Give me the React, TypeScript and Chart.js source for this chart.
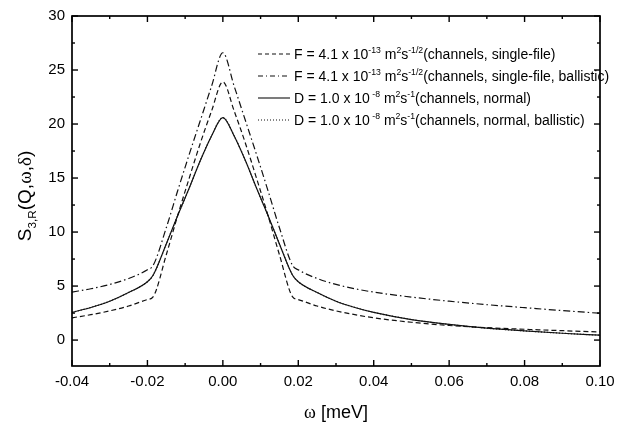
import React, { useEffect, useRef } from "react";
import { Chart, registerables } from "chart.js";
Chart.register(...registerables);

// omega [meV]
const omega = [-0.04, -0.035, -0.03, -0.025, -0.02, -0.0185, -0.015, -0.012, -0.009, -0.006, -0.003, 0,
  0.003, 0.006, 0.009, 0.012, 0.015, 0.0185, 0.02, 0.025, 0.03, 0.035, 0.04, 0.05, 0.06, 0.07, 0.08, 0.09, 0.10];

// F = 4.1e-13 (channels, single-file) - dashed
const singleFile = [2.06, 2.35, 2.7, 3.15, 3.75, 4.0, 7.9, 11.5, 14.9, 18.2, 21.2, 23.9,
  21.2, 18.2, 14.9, 11.5, 7.9, 4.0, 3.75, 3.15, 2.7, 2.35, 2.06, 1.65, 1.35, 1.15, 1.0, 0.87, 0.75];

// F = 4.1e-13 (channels, single-file, ballistic) - dash-dot
const singleFileBallistic = [4.44, 4.75, 5.15, 5.7, 6.5, 6.9, 10.4, 13.8, 17.1, 20.3, 23.5, 26.6,
  23.5, 20.3, 17.1, 13.8, 10.4, 6.9, 6.5, 5.7, 5.15, 4.75, 4.44, 3.98, 3.6, 3.28, 3.0, 2.73, 2.48];

// D = 1.0e-8 (channels, normal) - solid
const normal = [2.57, 3.02, 3.6, 4.4, 5.4, 6.0, 8.9, 11.5, 14.0, 16.6, 18.9, 20.6,
  18.9, 16.6, 14.0, 11.5, 8.9, 6.0, 5.4, 4.4, 3.6, 3.02, 2.57, 1.9, 1.45, 1.1, 0.85, 0.63, 0.45];

// D = 1.0e-8 (channels, normal, ballistic) - dotted (coincides with solid)
const normalBallistic = [2.57, 3.02, 3.6, 4.4, 5.4, 6.0, 8.9, 11.5, 14.0, 16.6, 18.9, 20.6,
  18.9, 16.6, 14.0, 11.5, 8.9, 6.0, 5.4, 4.4, 3.6, 3.02, 2.57, 1.9, 1.45, 1.1, 0.85, 0.63, 0.45];

const xTicks = [-0.04, -0.02, 0.0, 0.02, 0.04, 0.06, 0.08, 0.1];
const xMinor = [-0.03, -0.01, 0.01, 0.03, 0.05, 0.07, 0.09];
const yTicks = [0, 5, 10, 15, 20, 25, 30];
const yMinor = [2.5, 7.5, 12.5, 17.5, 22.5, 27.5];

type Seg = { t: string; sup?: boolean; sub?: boolean; serif?: boolean };

const legendRows: { dash: number[]; segs: Seg[] }[] = [
  { dash: [4, 3], segs: [{ t: "F = 4.1 x 10" }, { t: "-13", sup: true }, { t: " m" }, { t: "2", sup: true }, { t: "s" }, { t: "-1/2", sup: true }, { t: "(channels, single-file)" }] },
  { dash: [5, 3, 1, 3], segs: [{ t: "F = 4.1 x 10" }, { t: "-13", sup: true }, { t: " m" }, { t: "2", sup: true }, { t: "s" }, { t: "-1/2", sup: true }, { t: "(channels, single-file, ballistic)" }] },
  { dash: [], segs: [{ t: "D = 1.0 x 10" }, { t: " -8", sup: true }, { t: " m" }, { t: "2", sup: true }, { t: "s" }, { t: "-1", sup: true }, { t: "(channels, normal)" }] },
  { dash: [1, 2], segs: [{ t: "D = 1.0 x 10" }, { t: " -8", sup: true }, { t: " m" }, { t: "2", sup: true }, { t: "s" }, { t: "-1", sup: true }, { t: "(channels, normal, ballistic)" }] },
];

const SANS = "'Liberation Sans', Arial, sans-serif";
const SERIF = "'Liberation Serif', serif";

function richWidth(ctx: CanvasRenderingContext2D, segs: Seg[], size: number) {
  let w = 0;
  for (const s of segs) {
    const sz = s.sup || s.sub ? size * 0.62 : size;
    ctx.font = `${sz}px ${s.serif ? SERIF : SANS}`;
    w += ctx.measureText(s.t).width;
  }
  return w;
}

function drawRich(ctx: CanvasRenderingContext2D, segs: Seg[], x: number, y: number, size: number) {
  ctx.textBaseline = "alphabetic";
  ctx.textAlign = "left";
  let cx = x;
  for (const s of segs) {
    const sz = s.sup || s.sub ? size * 0.62 : size;
    ctx.font = `${sz}px ${s.serif ? SERIF : SANS}`;
    const yy = s.sup ? y - size * 0.42 : s.sub ? y + size * 0.25 : y;
    ctx.fillText(s.t, cx, yy);
    cx += ctx.measureText(s.t).width;
  }
}

const decorPlugin = {
  id: "decor",
  afterDraw(chart: any) {
    const ctx: CanvasRenderingContext2D = chart.ctx;
    const { left, right, top, bottom } = chart.chartArea;
    const xs = chart.scales.x;
    const ys = chart.scales.y;
    ctx.save();
    ctx.strokeStyle = "#000";
    ctx.fillStyle = "#000";
    ctx.setLineDash([]);
    ctx.lineWidth = 1.7;
    ctx.strokeRect(left, top, right - left, bottom - top);
    ctx.lineWidth = 1.4;
    const tick = (x1: number, y1: number, x2: number, y2: number) => {
      ctx.beginPath();
      ctx.moveTo(x1, y1);
      ctx.lineTo(x2, y2);
      ctx.stroke();
    };
    for (const v of xTicks) {
      const p = xs.getPixelForValue(v);
      tick(p, bottom, p, bottom - 6);
      tick(p, top, p, top + 6);
    }
    for (const v of xMinor) {
      const p = xs.getPixelForValue(v);
      tick(p, bottom, p, bottom - 3);
      tick(p, top, p, top + 3);
    }
    for (const v of yTicks) {
      const p = ys.getPixelForValue(v);
      tick(left, p, left + 6, p);
      tick(right, p, right - 6, p);
    }
    for (const v of yMinor) {
      const p = ys.getPixelForValue(v);
      tick(left, p, left + 3, p);
      tick(right, p, right - 3, p);
    }

    // legend
    const lsize = 14;
    const rowY = [54, 76, 98, 120];
    legendRows.forEach((r, i) => {
      const y = rowY[i];
      ctx.lineWidth = 1.1;
      ctx.setLineDash(r.dash);
      ctx.strokeStyle = "#111";
      ctx.beginPath();
      ctx.moveTo(258, y);
      ctx.lineTo(290, y);
      ctx.stroke();
      ctx.setLineDash([]);
      drawRich(ctx, r.segs, 294, y + 5, lsize);
    });

    // x title
    const xt: Seg[] = [{ t: "ω", serif: true }, { t: " [meV]" }];
    const xw = richWidth(ctx, xt, 18);
    drawRich(ctx, xt, (left + right) / 2 - xw / 2, 418, 18);

    // y title
    const yt: Seg[] = [{ t: "S" }, { t: "3,R", sub: true }, { t: "(Q," }, { t: "ω", serif: true }, { t: "," }, { t: "δ", serif: true }, { t: ")" }];
    ctx.translate(31, 196);
    ctx.rotate(-Math.PI / 2);
    const yw = richWidth(ctx, yt, 19);
    drawRich(ctx, yt, -yw / 2, 0, 19);
    ctx.restore();
  },
};

export default function App() {
  const ref = useRef<HTMLCanvasElement | null>(null);
  useEffect(() => {
    if (!ref.current) return;
    const mk = (vals: number[]) => omega.map((x, i) => ({ x, y: vals[i] }));
    const base = { borderColor: "#111", borderWidth: 1.2, pointRadius: 0, cubicInterpolationMode: "monotone", fill: false };
    const chart = new Chart(ref.current, {
      type: "line",
      data: {
        datasets: [
          { ...base, label: "D normal ballistic", data: mk(normalBallistic), borderDash: [1, 2] },
          { ...base, label: "F single-file", data: mk(singleFile), borderDash: [5, 3] },
          { ...base, label: "F single-file ballistic", data: mk(singleFileBallistic), borderDash: [7, 3, 1.5, 3] },
          { ...base, label: "D normal", data: mk(normal), borderDash: [] },
        ],
      },
      options: {
        animation: false,
        responsive: false,
        maintainAspectRatio: false,
        layout: { padding: { top: 9, right: 39, left: 0, bottom: 0 } },
        plugins: { legend: { display: false }, tooltip: { enabled: false } },
        scales: {
          x: {
            type: "linear",
            min: -0.04,
            max: 0.1,
            afterFit: (s: any) => { s.height = 64; },
            afterBuildTicks: (s: any) => { s.ticks = xTicks.map((v) => ({ value: v })); },
            ticks: {
              callback: (v: any) => Number(v).toFixed(2),
              font: { family: SANS, size: 15 },
              color: "#000",
              padding: 7,
              maxRotation: 0,
              autoSkip: false,
            },
            grid: { display: false, drawTicks: false },
            border: { display: false },
          },
          y: {
            type: "linear",
            min: -2.4,
            max: 30,
            afterFit: (s: any) => { s.width = 72; },
            afterBuildTicks: (s: any) => { s.ticks = yTicks.map((v) => ({ value: v })); },
            ticks: {
              callback: (v: any) => String(v),
              font: { family: SANS, size: 15 },
              color: "#000",
              padding: 7,
              autoSkip: false,
            },
            grid: { display: false, drawTicks: false },
            border: { display: false },
          },
        },
      },
      plugins: [decorPlugin],
    } as any);
    return () => chart.destroy();
  }, []);
  return (
    <div style={{ position: "fixed", left: 0, top: 0, width: 639, height: 430, background: "#fff" }}>
      <canvas ref={ref} width={639} height={430} style={{ width: 639, height: 430, display: "block" }} />
    </div>
  );
}
